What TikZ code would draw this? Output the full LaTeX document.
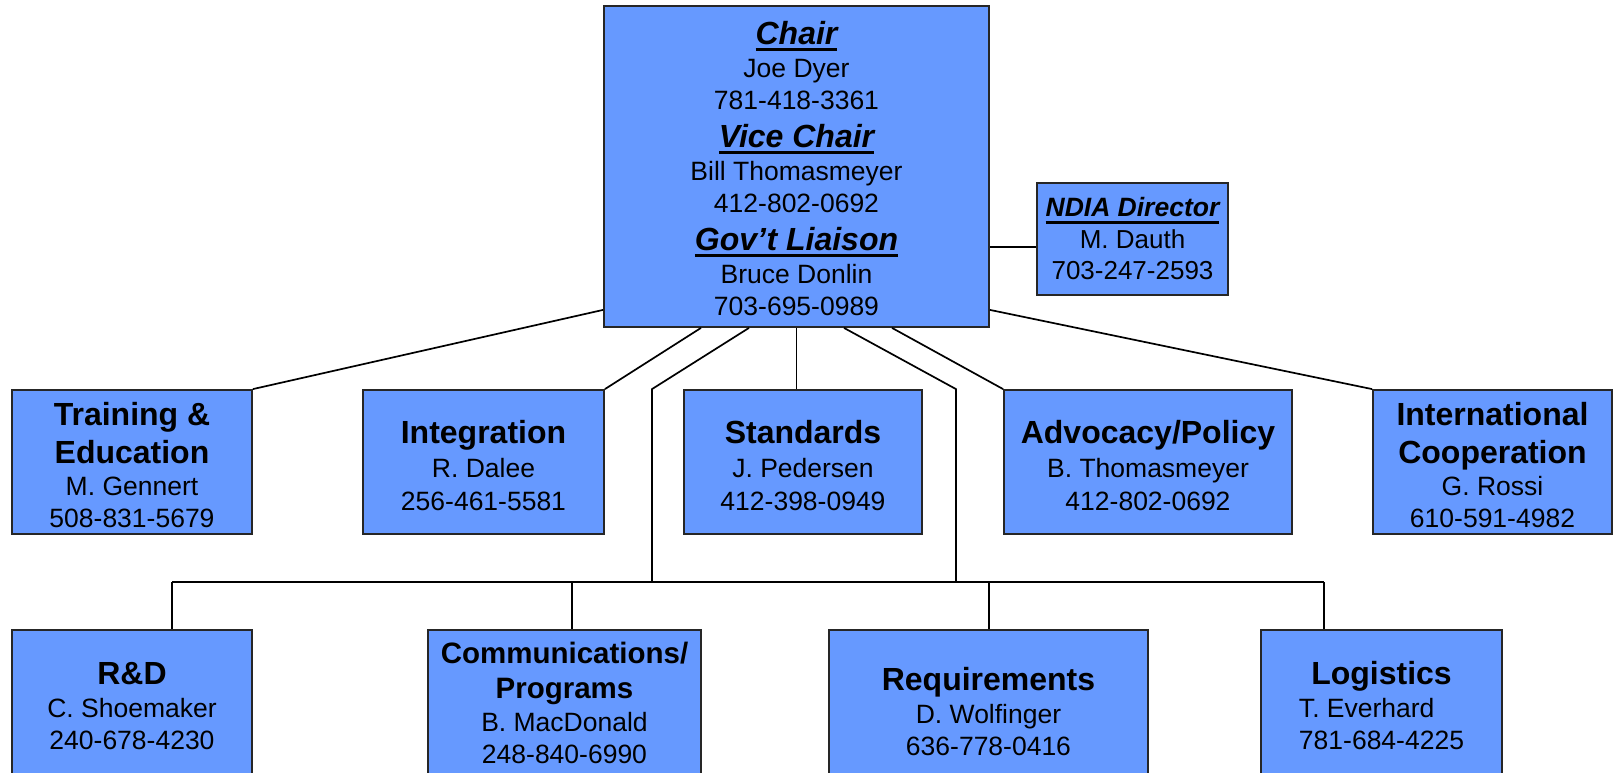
\documentclass[tikz,border=0pt]{standalone}
\usepackage{fontspec}
\setmainfont{Liberation Sans}
\usetikzlibrary{calc}
\definecolor{boxblue}{RGB}{102,153,255}
\newcommand\ulbox[1]{\leavevmode\setbox0\hbox{#1}\rlap{\rule[-6.6pt]{\wd0}{2.6pt}}\box0}
\newcommand\hd[1]{{\fontsize{32}{32}\selectfont\bfseries\itshape\ulbox{#1}}}
\newcommand\bt[1]{{\fontsize{32}{32}\selectfont\bfseries #1}}
\newcommand\bs[1]{{\fontsize{29.5}{32}\selectfont\bfseries #1}}
\newcommand\st[1]{\rule{0pt}{#1}}
\begin{document}
\begin{tikzpicture}[x=1pt,y=-1pt,
  box/.style={draw=black!85,line width=1.8pt,fill=boxblue,inner sep=0pt,align=center,
    font=\fontsize{26.5}{32}\selectfont},
  link/.style={line width=1.7pt,black}]
\useasboundingbox (0,0) rectangle (1618,773);
\clip (0,0) rectangle (1618,773);

% top box
\node[box,minimum width=385pt,minimum height=321pt] (chair) at (796.5,166.5)
  {\st{27.5pt}\hd{Chair}\\[1.5pt] Joe Dyer\\ 781-418-3361\\[5.5pt]
   \hd{Vice Chair}\\[1.5pt] Bill Thomasmeyer\\ 412-802-0692\\[5.5pt]
   \hd{Gov’t Liaison}\\[1.5pt] Bruce Donlin\\ 703-695-0989};

\node[box,minimum width=191pt,minimum height=112pt,font=\fontsize{26}{31}\selectfont] (ndia) at (1132.5,239)
  {{\fontsize{26.5}{31}\selectfont\bfseries\itshape\ulbox{NDIA Director}}\\[1pt] M. Dauth\\ 703-247-2593};

% first row
\node[box,minimum width=240pt,minimum height=144pt] (train) at (132,462)
  {\st{28.3pt}\bt{Training \&}\\[6pt] \bt{Education}\\ M. Gennert\\ 508-831-5679};
\node[box,minimum width=241pt,minimum height=144pt] (integ) at (483.5,462)
  {\st{29.3pt}\bt{Integration}\\[2pt] R. Dalee\\[1pt] 256-461-5581};
\node[box,minimum width=238pt,minimum height=144pt] (stand) at (803,462)
  {\st{29.3pt}\bt{Standards}\\[2pt] J. Pedersen\\[1pt] 412-398-0949};
\node[box,minimum width=288pt,minimum height=144pt] (advoc) at (1148,462)
  {\st{29.3pt}\bt{Advocacy/Policy}\\[2pt] B. Thomasmeyer\\[1pt] 412-802-0692};
\node[box,minimum width=239pt,minimum height=144pt] (intl) at (1492.5,462)
  {\st{28.3pt}\bt{International}\\[6pt] \bt{Cooperation}\\ G. Rossi\\ 610-591-4982};

% second row
\node[box,minimum width=240pt,minimum height=146pt] (rd) at (132,703)
  {\st{28.7pt}\bt{R\&D}\\[1pt] C. Shoemaker\\ 240-678-4230};
\node[box,minimum width=273pt,minimum height=146pt] (comm) at (564.5,703)
  {\bs{Communications/}\\[3pt] \bs{Programs}\\[1pt] B. MacDonald\\ 248-840-6990};
\node[box,minimum width=319pt,minimum height=164pt] (req) at (988.5,712)
  {\bt{Requirements}\\[1pt] D. Wolfinger\\ 636-778-0416};
\node[box,minimum width=241pt,minimum height=146pt] (logi) at (1381.5,703)
  {\st{28.7pt}\bt{Logistics}\\[1pt] \rlap{T. Everhard}\phantom{781-684-4225}\\ 781-684-4225};

% connectors
\coordinate (jl) at (652,582);
\coordinate (jr) at (956,582);
\coordinate (b1) at (172,582);
\coordinate (b2) at (572,582);
\coordinate (b3) at (989,582);
\coordinate (b4) at (1324,582);

\draw[link] ($(chair.east |- ndia.west)+(0,8)$) -- ($(ndia.west)+(0,8)$);
\draw[link] ($(chair.south west)+(0,-18)$) -- (train.north east);
\draw[link] ($(chair.south)+(-95.5,0)$) -- (integ.north east);
\draw[link] ($(chair.south)+(-47.5,0)$) -- (jl |- train.north) -- (jl);
\draw[link] (chair.south) -- (chair.south |- stand.north);
\draw[link] ($(chair.south)+(47.5,0)$) -- (jr |- train.north) -- (jr);
\draw[link] ($(chair.south)+(95.5,0)$) -- (advoc.north west);
\draw[link] ($(chair.south east)+(0,-18)$) -- (intl.north west);

\draw[link] (b1) -- (b4);
\draw[link] (b1) -- (b1 |- rd.north);
\draw[link] (b2) -- (b2 |- comm.north);
\draw[link] (b3) -- (b3 |- req.north);
\draw[link] (b4) -- (b4 |- logi.north);
\end{tikzpicture}
\end{document}
